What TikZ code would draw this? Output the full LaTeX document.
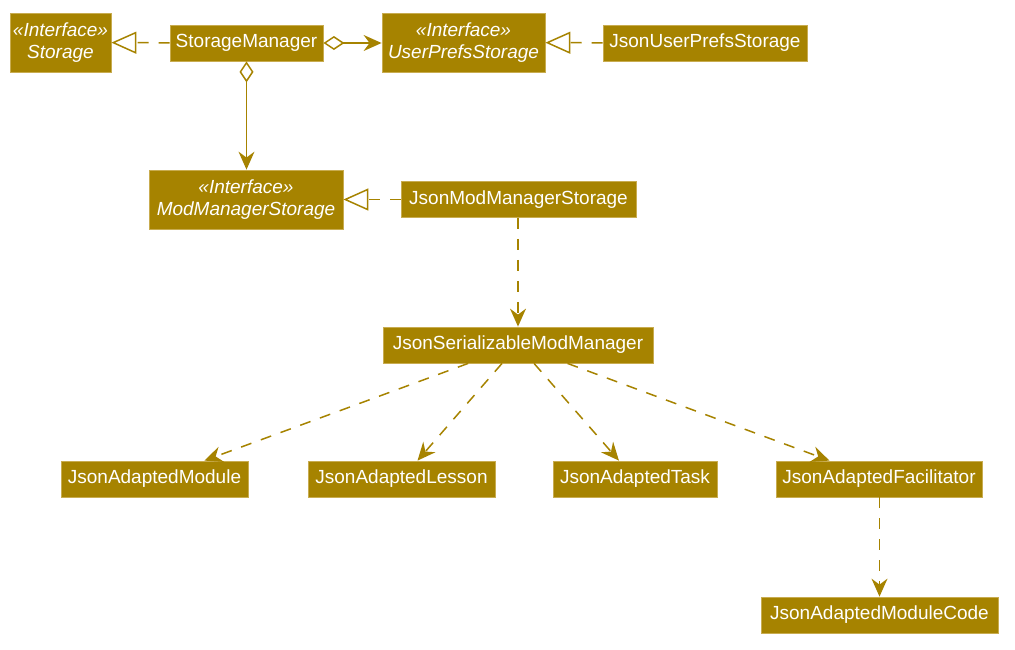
\documentclass[tikz,border=0pt]{standalone}
\usepackage{fontspec}
\setmainfont{Liberation Sans}
\usetikzlibrary{arrows.meta}
\definecolor{umlfill}{RGB}{166,131,0}
\definecolor{umlborder}{RGB}{200,172,80}
\definecolor{umlline}{RGB}{166,131,0}
\begin{document}
\begin{tikzpicture}[x=1pt,y=-1pt,
  cls/.style={fill=umlfill, draw=umlborder, line width=0.8pt, text=white, inner sep=0pt,
    minimum height=36pt, font=\fontsize{19}{21}\selectfont, align=center},
  iface/.style={cls, minimum height=59pt, font=\fontsize{19}{22}\selectfont\itshape},
  realize/.style={draw=umlline, line width=1.5pt, dash pattern=on 11pt off 10pt,
    -{Triangle[open, length=25pt, width=22pt, line width=1.5pt]}},
  assoc/.style={draw=umlline, line width=1.5pt,
    {Diamond[open, length=21pt, width=14pt, line width=1.5pt]}-{Stealth[length=18pt, width=16pt, inset=6pt]}},
  dep/.style={draw=umlline, line width=1.5pt, dash pattern=on 11pt off 10pt,
    -{Stealth[length=18pt, width=16pt, inset=6pt]}}
]
\useasboundingbox (0,0) rectangle (1015,649);
\node[iface, minimum width=101pt] (st) at (60.5,42.5) {«Interface»\\Storage};
\node[cls, minimum width=153pt] (sm) at (246.5,43) {StorageManager};
\node[iface, minimum width=163pt] (ups) at (463.5,42.5) {«Interface»\\UserPrefsStorage};
\node[cls, minimum width=204pt] (jups) at (705,43) {JsonUserPrefsStorage};
\node[iface, minimum width=194pt] (mms) at (246,199.5) {«Interface»\\ModManagerStorage};
\node[cls, minimum width=235pt] (jmms) at (518.5,199.5) {JsonModManagerStorage};
\node[cls, minimum width=270pt] (jsm) at (518,345) {JsonSerializableModManager};
\node[cls, minimum width=187pt] (jam) at (154.5,479) {JsonAdaptedModule};
\node[cls, minimum width=187pt] (jal) at (401.5,479) {JsonAdaptedLesson};
\node[cls, minimum width=164pt] (jat) at (635,479) {JsonAdaptedTask};
\node[cls, minimum width=206pt] (jaf) at (879,479) {JsonAdaptedFacilitator};
\node[cls, minimum width=237pt] (jamc) at (879.5,615) {JsonAdaptedModuleCode};

\draw[realize] (sm) -- (st);
\draw[realize] (jups) -- (ups);
\draw[realize] (jmms) -- (mms);
\draw[assoc] (sm.east) -- (ups.west |- sm.east);
\draw[assoc] (sm.south) -- (mms.north -| sm.south);
\draw[dep] (jmms.south -| jsm.north) -- (jsm.north);
\draw[dep] (jsm) -- (jam);
\draw[dep] (jsm) -- (jal);
\draw[dep] (jsm) -- (jat);
\draw[dep] (jsm) -- (jaf);
\draw[dep] (jaf.south -| jamc.north) -- (jamc.north);
\end{tikzpicture}
\end{document}
